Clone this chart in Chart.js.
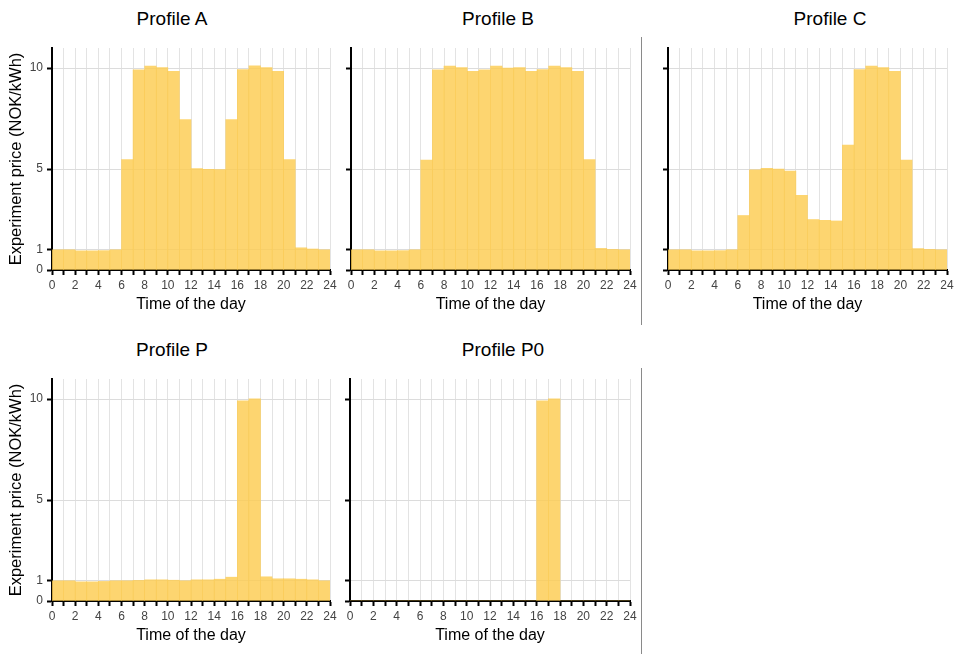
<!DOCTYPE html>
<html>
<head>
<meta charset="utf-8">
<script src="https://cdn.jsdelivr.net/npm/chart.js@4/dist/chart.umd.min.js"></script>
<style>
  html, body { margin: 0; padding: 0; background: #fff; }
  body { width: 961px; height: 654px; position: relative; overflow: hidden; font-family: 'Liberation Sans', Arial, sans-serif; }
  canvas { position: absolute; }
  .title { position: absolute; width: 200px; text-align: center; font-size: 19px; line-height: 19px; color: #000; font-weight: normal; }
  .sep { position: absolute; width: 1px; background: #8a8a8a; }
</style>
</head>
<body>
<div class="title" style="left:72px;top:9px;">Profile A</div>
<div class="title" style="left:398px;top:9px;">Profile B</div>
<div class="title" style="left:730px;top:9px;">Profile C</div>
<div class="title" style="left:72px;top:340px;">Profile P</div>
<div class="title" style="left:403px;top:340px;">Profile P0</div>
<div class="sep" style="left:641px;top:37px;height:288px;"></div>
<div class="sep" style="left:641px;top:368px;height:286px;"></div>

<canvas id="cA" width="340" height="325" style="left:0px;top:0px;"></canvas>
<canvas id="cB" width="300" height="325" style="left:340px;top:0px;"></canvas>
<canvas id="cC" width="316" height="325" style="left:645px;top:0px;"></canvas>
<canvas id="cP" width="340" height="325" style="left:0px;top:331px;"></canvas>
<canvas id="cP0" width="300" height="325" style="left:340px;top:331px;"></canvas>

<script>
// ---- data ----
const hours = [0,1,2,3,4,5,6,7,8,9,10,11,12,13,14,15,16,17,18,19,20,21,22,23];
const profileA = [1.0,1.0,0.95,0.95,0.96,1.0,5.47,9.92,10.1,10.03,9.85,7.45,5.02,4.99,4.97,7.45,9.93,10.12,10.03,9.85,5.47,1.1,1.04,1.0];
const profileB = [1.0,1.0,0.95,0.95,0.96,1.0,5.45,9.92,10.1,10.03,9.85,9.92,10.1,10.0,10.03,9.85,9.93,10.1,10.03,9.85,5.47,1.07,1.02,1.0];
const profileC = [1.0,1.0,0.95,0.95,0.96,1.0,2.7,4.96,5.04,5.0,4.9,3.7,2.5,2.46,2.43,6.19,9.93,10.1,10.03,9.85,5.45,1.06,1.02,1.0];
const profileP = [1.0,1.0,0.95,0.95,0.97,1.0,1.0,1.02,1.05,1.05,1.03,1.0,1.05,1.05,1.08,1.18,9.92,10.02,1.2,1.1,1.1,1.08,1.05,1.0];
const profileP0 = [0,0,0,0,0,0,0,0,0,0,0,0,0,0,0,0,9.92,10.02,0,0,0,0,0,0];
const yTickValues = [0, 1, 5, 10];
const xTitle = 'Time of the day';
const yTitle = 'Experiment price (NOK/kWh)';

const FONT = "'Liberation Sans', Arial, sans-serif";

function makeChart(id, values, opts) {
  const ctx = document.getElementById(id);
  return new Chart(ctx, {
    type: 'bar',
    data: {
      datasets: [{
        data: hours.map((h, i) => ({ x: h + 0.5, y: values[i] })),
        backgroundColor: 'rgba(253,204,80,0.82)',
        borderWidth: 0,
        barPercentage: 1,
        categoryPercentage: 1
      }]
    },
    options: {
      responsive: false,
      animation: false,
      devicePixelRatio: 1,
      layout: { padding: { top: 48, left: 0, right: opts.padRight, bottom: 0 } },
      plugins: { legend: { display: false }, tooltip: { enabled: false }, title: { display: false } },
      scales: {
        x: {
          type: 'linear',
          min: 0, max: 24,
          offset: false,
          grid: { offset: false, color: '#e3e3e3', lineWidth: 1, drawTicks: true, tickLength: 5, tickColor: '#000', tickWidth: 2 },
          border: { display: true, color: '#000', width: 2 },
          ticks: {
            stepSize: 1, autoSkip: false, maxRotation: 0, padding: 3,
            color: '#444', font: { family: FONT, size: 12 },
            callback: v => (v % 2 === 0 ? String(v) : '')
          },
          title: { display: true, text: xTitle, color: '#000', font: { family: FONT, size: 16 }, padding: { top: 0, bottom: 11 } },
          afterFit: s => { s.height = 55; }
        },
        y: {
          min: 0, max: 11,
          afterBuildTicks: s => { s.ticks = yTickValues.map(v => ({ value: v })); },
          grid: { color: '#dcdcdc', lineWidth: 1, drawTicks: true, tickLength: 5, tickColor: '#000', tickWidth: 2 },
          border: { display: true, color: '#000', width: 2 },
          ticks: { display: opts.showY, padding: 4, color: '#444', font: { family: FONT, size: 12 } },
          title: { display: opts.showY, text: yTitle, color: '#000', font: { family: FONT, size: 16.5 }, padding: { top: 7, bottom: 0 } },
          afterFit: s => { s.width = opts.yWidth; }
        }
      }
    }
  });
}

makeChart('cA', profileA, { showY: true, yWidth: 52, padRight: 10 });
makeChart('cB', profileB, { showY: false, yWidth: 11, padRight: 10 });
makeChart('cC', profileC, { showY: false, yWidth: 23, padRight: 14 });
makeChart('cP', profileP, { showY: true, yWidth: 52, padRight: 10 });
makeChart('cP0', profileP0, { showY: false, yWidth: 10, padRight: 10 });
</script>
</body>
</html>
